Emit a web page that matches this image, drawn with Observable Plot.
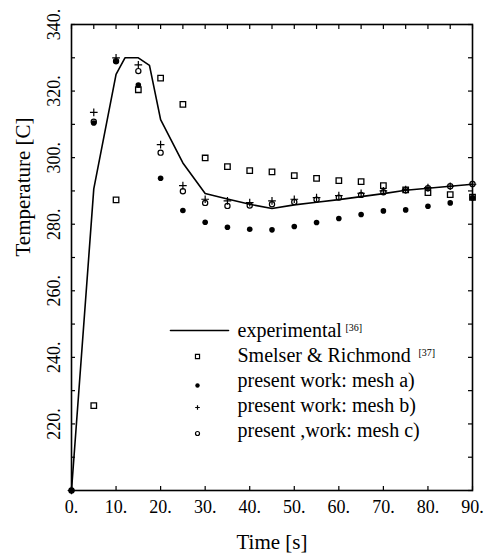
<!DOCTYPE html>
<html>
<head>
<meta charset="utf-8">
<script src="https://cdn.jsdelivr.net/npm/d3@7"></script>
<script src="https://cdn.jsdelivr.net/npm/@observablehq/plot@0.6"></script>
<style>
  body { margin: 0; background: #fff; }
  #chart svg { display: block; }
</style>
</head>
<body>
<div id="chart"></div>
<script>
// Experimental thermocouple curve
const expTime = [0, 5, 10, 12, 15, 17.5, 20, 25, 30, 35, 40, 45, 50, 55, 60, 65, 70, 75, 80, 85, 90];
const expTemp = [200, 290.6, 325, 330, 330, 327.7, 311.4, 298.4, 289.2, 287.6, 286, 284.7, 285.8, 286.6, 287.4, 288.3, 289.2, 290.2, 290.8, 291.4, 292];

// Smelser & Richmond results
const srTime = [5, 10, 15, 20, 25, 30, 35, 40, 45, 50, 55, 60, 65, 70, 75, 80, 85, 90];
const srTemp = [225.5, 287.3, 320.4, 323.9, 316, 299.9, 297.3, 296.1, 295.7, 294.6, 293.8, 293.1, 292.8, 291.6, 290.3, 289.5, 288.9, 288.1];

// Present work, three meshes
const meshTime = [0, 5, 10, 15, 20, 25, 30, 35, 40, 45, 50, 55, 60, 65, 70, 75, 80, 85, 90];
const meshA = [200, 310.4, 328.9, 321.8, 293.8, 284.1, 280.6, 279.1, 278.5, 278.3, 279.3, 280.5, 281.7, 282.9, 284, 284.3, 285.4, 286.4, 287.9];
const meshB = [200, 313.6, 330, 327.9, 303.9, 291.6, 287.5, 287, 286.5, 287, 287.5, 288, 288.6, 289.3, 290, 290.4, 291, 291.4, 292];
const meshC = [200, 310.8, 329, 326, 301.5, 289.9, 286.4, 285.5, 285.6, 286, 286.7, 287.4, 288, 288.8, 289.6, 290.2, 290.8, 291.4, 292.1];

// Axis ticks and labels
const xLabelTicks = [0, 10, 20, 30, 40, 50, 60, 70, 80, 90];
const xTopTicks = d3.range(0, 91, 5);
const yLabelTicks = [220, 240, 260, 280, 300, 320, 340];
const yMinorTicks = d3.range(200, 341, 10);

// Legend entries
const legendRows = [
  {label: "experimental", ref: "[36]", kind: "line"},
  {label: "Smelser & Richmond", ref: "[37]", kind: "square"},
  {label: "present work: mesh a)", ref: "", kind: "dot"},
  {label: "present work: mesh b)", ref: "", kind: "plus"},
  {label: "present ,work: mesh c)", ref: "", kind: "circle"}
];

const zip = (xs, ys) => xs.map((t, i) => ({t, T: ys[i]}));
const expData = zip(expTime, expTemp);
const srData = zip(srTime, srTemp);
const aData = zip(meshTime, meshA);
const bData = zip(meshTime, meshB);
const cData = zip(meshTime, meshC);

const serif = "'Liberation Serif', 'DejaVu Serif', serif";
const fmt = d => d + ".";

// horizontal stroke used for the legend line sample
const hLine = {draw(context, l) { context.moveTo(0, 0); context.lineTo(l, 0); }};

// legend marks, placed relative to the top-left corner of the frame
const rowY0 = 306, rowStep = 25, symX = 126, textX = 166;
const legendMarks = legendRows.flatMap((row, i) => {
  const dy = rowY0 + rowStep * i;
  const marks = [
    Plot.text([row.label], {frameAnchor: "top-left", dx: textX, dy, textAnchor: "start", lineAnchor: "middle", fontSize: 20, fontFamily: serif, fill: "#000"})
  ];
  if (row.ref) {
    const refX = row.kind === "line" ? 274 : 347;
    marks.push(Plot.text([row.ref], {frameAnchor: "top-left", dx: refX, dy: dy - 3, textAnchor: "start", lineAnchor: "middle", fontSize: 10, fontFamily: serif, fill: "#000"}));
  }
  if (row.kind === "line") {
    marks.push(Plot.vector([0], {frameAnchor: "top-left", dx: 99, dy, length: 58, anchor: "start", rotate: 0, shape: hLine, stroke: "#000", strokeWidth: 1.6}));
  } else if (row.kind === "square") {
    marks.push(Plot.dot([0], {frameAnchor: "top-left", dx: symX, dy: dy + 1, symbol: "square", r: 2.3, fill: "none", stroke: "#000", strokeWidth: 1.2}));
  } else if (row.kind === "dot") {
    marks.push(Plot.dot([0], {frameAnchor: "top-left", dx: symX, dy: dy + 5, r: 2.2, fill: "#000", stroke: "none"}));
  } else if (row.kind === "plus") {
    marks.push(Plot.dot([0], {frameAnchor: "top-left", dx: symX, dy: dy + 2, symbol: "plus", r: 1.6, stroke: "#000", strokeWidth: 1.2}));
  } else {
    marks.push(Plot.dot([0], {frameAnchor: "top-left", dx: symX, dy: dy + 3, r: 2, fill: "none", stroke: "#000", strokeWidth: 1.2}));
  }
  return marks;
});

const chart = Plot.plot({
  width: 484,
  height: 555,
  marginLeft: 71,
  marginRight: 12,
  marginTop: 24,
  marginBottom: 65,
  style: {fontFamily: serif, background: "#fff", color: "#000"},
  x: {domain: [0, 90]},
  y: {domain: [200, 340]},
  marks: [
    // inward ticks on all four sides
    Plot.axisX(xLabelTicks, {anchor: "bottom", tickSize: 4, dy: -4, text: null, label: null, strokeWidth: 1.2}),
    Plot.axisX(xTopTicks, {anchor: "top", tickSize: 4, dy: 4, text: null, label: null, strokeWidth: 1.2}),
    Plot.axisY(yMinorTicks, {anchor: "left", tickSize: 4, dx: 4, text: null, label: null, strokeWidth: 1.2}),
    Plot.axisY(yMinorTicks, {anchor: "right", tickSize: 5, dx: -5, text: null, label: null, strokeWidth: 1.2}),
    // tick labels
    Plot.axisX(xLabelTicks, {anchor: "bottom", tickSize: 0, tickPadding: 10, tickFormat: fmt, fontSize: 18, fontFamily: serif, label: null}),
    Plot.axisY(yLabelTicks, {anchor: "left", tickSize: 0, tickPadding: 12, tickRotate: -90, textAnchor: "middle", lineAnchor: "bottom", tickFormat: fmt, fontSize: 18, fontFamily: serif, label: null}),
    // axis titles
    Plot.text(["Time [s]"], {frameAnchor: "bottom", dy: 52, lineAnchor: "middle", fontSize: 21, fontFamily: serif, fill: "#000"}),
    Plot.text(["Temperature [C]"], {frameAnchor: "left", dx: -48, dy: -1, rotate: -90, lineAnchor: "middle", fontSize: 21, fontFamily: serif, fill: "#000"}),
    Plot.frame({stroke: "#000", strokeWidth: 1.6}),
    // data
    Plot.line(expData, {x: "t", y: "T", stroke: "#000", strokeWidth: 1.6}),
    Plot.dot(srData, {x: "t", y: "T", symbol: "square", r: 3.1, fill: "none", stroke: "#000", strokeWidth: 1.3}),
    Plot.dot(aData, {x: "t", y: "T", r: 2.8, fill: "#000", stroke: "none"}),
    Plot.dot(bData, {x: "t", y: "T", symbol: "plus", r: 2.6, stroke: "#000", strokeWidth: 1.2}),
    Plot.dot(cData, {x: "t", y: "T", r: 2.6, fill: "none", stroke: "#000", strokeWidth: 1.2}),
    ...legendMarks
  ]
});

document.getElementById("chart").appendChild(chart);
</script>
</body>
</html>
